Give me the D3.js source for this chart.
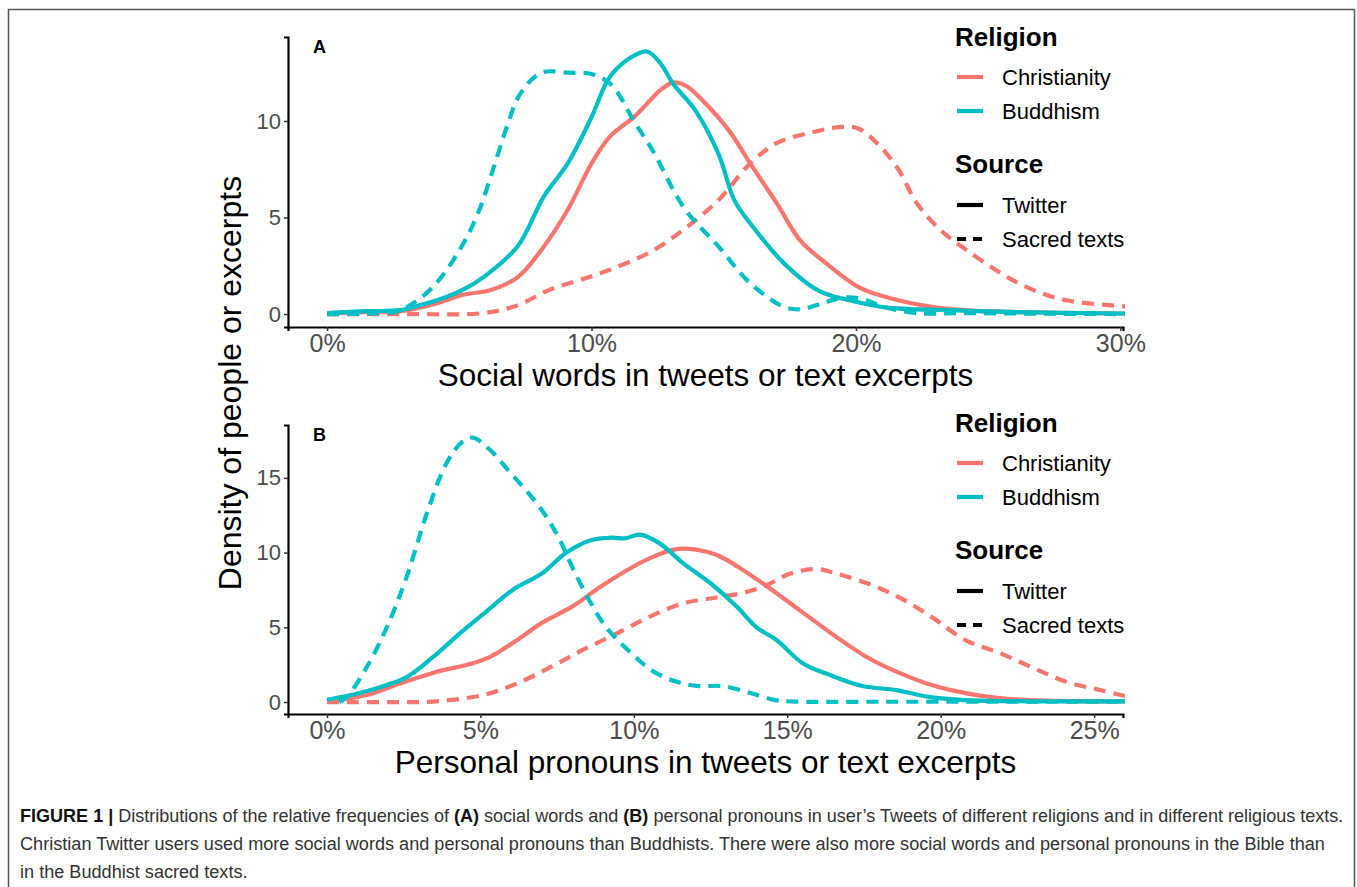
<!DOCTYPE html>
<html>
<head>
<meta charset="utf-8">
<script src="https://cdn.jsdelivr.net/npm/d3@7"></script>
<style>
  body { margin: 0; background: #fff; }
  svg { display: block; }
  text { font-family: "Liberation Sans", Arial, Helvetica, sans-serif; }
</style>
</head>
<body>
<svg id="fig" width="1357" height="887"></svg>
<script>
// colours (ggplot defaults for 2 groups)
const religions = ["Christianity", "Buddhism"];
const religionColors = ["#F8766D", "#00BFC4"];
const sources = ["Twitter", "Sacred texts"];

// ---- panel A : social words (%), density ----
const aTicksX = [0, 10, 20, 30];
const aTicksY = [0, 5, 10];
const aChrTwX = [0, 1.5, 2.8, 4, 5.15, 6.2, 7.2, 8.2, 9.1, 10.0, 10.7, 11.6, 12.1, 12.6, 13.1, 13.6, 14.1, 15.2, 16.0, 17.0, 17.9, 18.9, 20.1, 21.1, 23.0, 24.8, 27, 30.2];
const aChrTwY = [0.05, 0.1, 0.15, 0.5, 1.0, 1.25, 1.9, 3.5, 5.4, 7.8, 9.2, 10.2, 10.9, 11.6, 12.0, 11.8, 11.2, 9.5, 7.8, 5.75, 3.8, 2.6, 1.4, 0.9, 0.35, 0.15, 0.08, 0.03];
const aBudTwX = [0, 1.5, 2.77, 3.5, 4.4, 5.2, 5.9, 7.2, 8.2, 9.1, 10.0, 10.7, 11.5, 12.1, 12.6, 13.1, 13.9, 14.8, 15.4, 16.0, 17.3, 18.6, 19.8, 21.1, 23.6, 26, 30.2];
const aBudTwY = [0.05, 0.15, 0.2, 0.45, 0.83, 1.3, 1.9, 3.5, 6.1, 7.8, 10.2, 12.3, 13.3, 13.6, 13.0, 11.9, 10.6, 8.3, 5.9, 4.7, 2.6, 1.2, 0.7, 0.35, 0.2, 0.1, 0.03];
const aBudSacX = [0, 1.5, 2.5, 3.0, 4.0, 5.0, 5.7, 6.3, 6.8, 7.3, 8.1, 9.1, 10.1, 10.8, 11.6, 12.3, 13.5, 14.8, 16.0, 17.3, 17.9, 18.6, 19.5, 20.2, 21.1, 22.3, 24, 27, 30.2];
const aBudSacY = [0, 0.02, 0.1, 0.35, 1.4, 3.3, 5.2, 7.6, 9.7, 11.4, 12.5, 12.5, 12.4, 11.8, 10.0, 8.5, 5.5, 3.5, 1.6, 0.36, 0.25, 0.5, 0.85, 0.8, 0.35, 0.05, 0.05, 0.02, 0];
const aChrSacX = [0, 3, 5.9, 7.2, 8.4, 10.3, 12.2, 13.5, 14.8, 16.0, 17.0, 18.3, 19.5, 20.1, 20.8, 21.6, 22.3, 23.2, 24.2, 25.5, 26.7, 28.0, 30.2];
const aChrSacY = [0, 0, 0.05, 0.45, 1.25, 2.1, 3.2, 4.4, 5.9, 7.8, 8.85, 9.4, 9.7, 9.6, 8.85, 7.5, 5.75, 4.35, 3.3, 2.1, 1.25, 0.7, 0.4];

// ---- panel B : personal pronouns (%), density ----
const bTicksX = [0, 5, 10, 15, 20, 25];
const bTicksY = [0, 5, 10, 15];
const bChrTwX = [0, 1.3, 2.4, 3.45, 4.75, 5.3, 6.2, 7.0, 8.0, 8.9, 9.96, 10.6, 11.3, 11.8, 12.7, 13.4, 14.3, 15.4, 16.5, 17.6, 18.65, 19.7, 20.8, 21.9, 23.5, 26];
const bChrTwY = [0.05, 0.47, 1.25, 1.95, 2.6, 3.0, 4.15, 5.3, 6.4, 7.7, 9.04, 9.7, 10.2, 10.25, 9.84, 9.04, 7.8, 6.15, 4.5, 3.0, 1.95, 1.14, 0.6, 0.27, 0.1, 0.05];
const bBudTwX = [0, 1.07, 1.95, 2.6, 3.45, 4.33, 5.1, 6.05, 7.0, 7.8, 8.55, 9.3, 9.7, 10.2, 10.85, 11.6, 12.5, 13.35, 14.0, 14.65, 15.5, 16.4, 17.45, 18.55, 19.6, 20.8, 23, 26];
const bBudTwY = [0.15, 0.6, 1.14, 1.67, 3.0, 4.6, 5.9, 7.5, 8.6, 10.0, 10.8, 11.0, 10.95, 11.2, 10.6, 9.3, 7.95, 6.4, 5.0, 4.15, 2.6, 1.8, 1.07, 0.8, 0.35, 0.13, 0.05, 0.05];
const bBudSacX = [0.4, 0.65, 1.3, 1.95, 2.6, 3.25, 3.9, 4.4, 4.75, 5.3, 5.95, 6.6, 7.15, 7.6, 8.0, 8.55, 9.1, 9.8, 10.6, 11.4, 12.1, 12.9, 13.8, 14.6, 15.3, 18, 22, 26];
const bBudSacY = [0, 0.35, 2.35, 5.0, 8.4, 12.6, 16.0, 17.4, 17.7, 16.9, 15.4, 13.9, 12.4, 10.8, 9.0, 6.8, 5.0, 3.5, 2.1, 1.35, 1.07, 1.07, 0.6, 0.13, 0.03, 0.02, 0.02, 0.02];
const bChrSacX = [0, 3, 3.45, 5.1, 6.2, 7.3, 8.35, 9.45, 10.5, 11.6, 12.7, 13.55, 14.3, 15.1, 15.95, 16.6, 17.6, 18.65, 19.7, 20.8, 21.9, 23.0, 24.1, 25.2, 26];
const bChrSacY = [0, 0, 0.03, 0.47, 1.25, 2.35, 3.5, 4.6, 5.7, 6.6, 7.0, 7.3, 7.8, 8.6, 8.9, 8.6, 7.95, 7.0, 5.7, 4.15, 3.3, 2.3, 1.35, 0.8, 0.4];

const zip = (xs, ys) => xs.map((x, i) => [x, ys[i]]);

const svg = d3.select("#fig");

// outer frame of the figure
svg.append("rect").attr("x", 8.5).attr("y", 9.5).attr("width", 1346).attr("height", 900)
  .attr("fill", "none").attr("stroke", "#555").attr("stroke-width", 1.5);

const panels = [
  { id: "A", top: 37, bottom: 327, xDom: [-1.48, 30.1], yDom: [-0.67, 14.35], xTicks: aTicksX, yTicks: aTicksY,
    title: "Social words in tweets or text excerpts", titleY: 386, legTop: 37,
    series: [
      { rel: 0, src: 0, d: zip(aChrTwX, aChrTwY) },
      { rel: 0, src: 1, d: zip(aChrSacX, aChrSacY) },
      { rel: 1, src: 1, d: zip(aBudSacX, aBudSacY) },
      { rel: 1, src: 0, d: zip(aBudTwX, aBudTwY) }
    ] },
  { id: "B", top: 425, bottom: 714, xDom: [-1.27, 25.94], yDom: [-0.8, 18.54], xTicks: bTicksX, yTicks: bTicksY,
    title: "Personal pronouns in tweets or text excerpts", titleY: 773, legTop: 423,
    series: [
      { rel: 0, src: 0, d: zip(bChrTwX, bChrTwY) },
      { rel: 0, src: 1, d: zip(bChrSacX, bChrSacY) },
      { rel: 1, src: 1, d: zip(bBudSacX, bBudSacY) },
      { rel: 1, src: 0, d: zip(bBudTwX, bBudTwY) }
    ] }
];

const left = 288, right = 1123;
const dash = "12,8";

panels.forEach((p, pi) => {
  const x = d3.scaleLinear().domain(p.xDom).range([left, right]);
  const y = d3.scaleLinear().domain(p.yDom).range([p.bottom, p.top]);

  const clipId = "clip" + pi;
  svg.append("clipPath").attr("id", clipId).append("rect")
    .attr("x", left).attr("y", p.top - 10).attr("width", right - left + 2).attr("height", p.bottom - p.top + 10);

  const line = d3.line().x(d => x(d[0])).y(d => y(d[1])).curve(d3.curveCatmullRom.alpha(0.5));
  const g = svg.append("g").attr("clip-path", `url(#${clipId})`);
  p.series.forEach(s => {
    g.append("path").attr("d", line(s.d))
      .attr("fill", "none")
      .attr("stroke", religionColors[s.rel])
      .attr("stroke-width", 4.2)
      .attr("stroke-dasharray", s.src === 1 ? dash : null);
  });

  // axes
  const xAxis = d3.axisBottom(x).tickValues(p.xTicks).tickSize(4).tickPadding(2).tickFormat(d => d + "%");
  const gx = svg.append("g").attr("transform", `translate(0,${p.bottom})`).call(xAxis);
  gx.select(".domain").attr("stroke", "#000").attr("stroke-width", 2.2);
  gx.selectAll(".tick line").attr("stroke", "#333").attr("stroke-width", 1.5);
  gx.selectAll(".tick text").attr("fill", "#4d4d4d").style("font-size", "25px").attr("dy", "0.74em");

  const yAxis = d3.axisLeft(y).tickValues(p.yTicks).tickSize(4).tickPadding(3);
  const gy = svg.append("g").attr("transform", `translate(${left},0)`).call(yAxis);
  gy.select(".domain").attr("stroke", "#000").attr("stroke-width", 2.2);
  gy.selectAll(".tick line").attr("stroke", "#333").attr("stroke-width", 1.5);
  gy.selectAll(".tick text").attr("fill", "#4d4d4d").style("font-size", "22px");

  // panel letter
  svg.append("text").attr("x", 313).attr("y", p.top + 16).text(p.id)
    .style("font-size", "18px").style("font-weight", "bold");

  // x title
  svg.append("text").attr("x", (left + right) / 2).attr("y", p.titleY).attr("text-anchor", "middle")
    .style("font-size", "31.5px").attr("fill", "#000").text(p.title);

  // legend
  const lg = svg.append("g").attr("transform", `translate(955,${p.legTop})`);
  lg.append("text").attr("x", 0).attr("y", 9).text("Religion").style("font-size", "26px").style("font-weight", "bold");
  religions.forEach((r, i) => {
    const yy = 40 + i * 34;
    lg.append("line").attr("x1", 2).attr("x2", 28).attr("y1", yy).attr("y2", yy)
      .attr("stroke", religionColors[i]).attr("stroke-width", 4.2);
    lg.append("text").attr("x", 47).attr("y", yy + 8).text(r).style("font-size", "22px");
  });
  lg.append("text").attr("x", 0).attr("y", 136).text("Source").style("font-size", "26px").style("font-weight", "bold");
  sources.forEach((s, i) => {
    const yy = 168 + i * 34;
    lg.append("line").attr("x1", 2).attr("x2", 28).attr("y1", yy).attr("y2", yy)
      .attr("stroke", "#000").attr("stroke-width", 4.2)
      .attr("stroke-dasharray", i === 1 ? "9,7" : null);
    lg.append("text").attr("x", 47).attr("y", yy + 8).text(s).style("font-size", "22px");
  });
});

// shared y title
svg.append("text").attr("transform", "translate(241,383) rotate(-90)").attr("text-anchor", "middle")
  .style("font-size", "32px").text("Density of people or excerpts");

// caption: each line sized to the width it has in the figure
const cap = svg.append("g").attr("fill", "#333");
function fitLine(t, target) {
  t.style("font-size", "18px");
  const w = t.node().getComputedTextLength();
  t.style("font-size", (18 * target / w).toFixed(2) + "px");
}
const l1 = cap.append("text").attr("x", 20).attr("y", 822);
l1.append("tspan").style("font-weight", "bold").attr("fill", "#111").text("FIGURE 1 |");
l1.append("tspan").text(" Distributions of the relative frequencies of ");
l1.append("tspan").style("font-weight", "bold").attr("fill", "#111").text("(A)");
l1.append("tspan").text(" social words and ");
l1.append("tspan").style("font-weight", "bold").attr("fill", "#111").text("(B)");
l1.append("tspan").text(" personal pronouns in user\u2019s Tweets of different religions and in different religious texts.");
fitLine(l1, 1325);
const l2 = cap.append("text").attr("x", 20).attr("y", 850)
  .text("Christian Twitter users used more social words and personal pronouns than Buddhists. There were also more social words and personal pronouns in the Bible than");
fitLine(l2, 1306);
const l3 = cap.append("text").attr("x", 20).attr("y", 878).text("in the Buddhist sacred texts.");
l3.style("font-size", l2.style("font-size"));
</script>
</body>
</html>
